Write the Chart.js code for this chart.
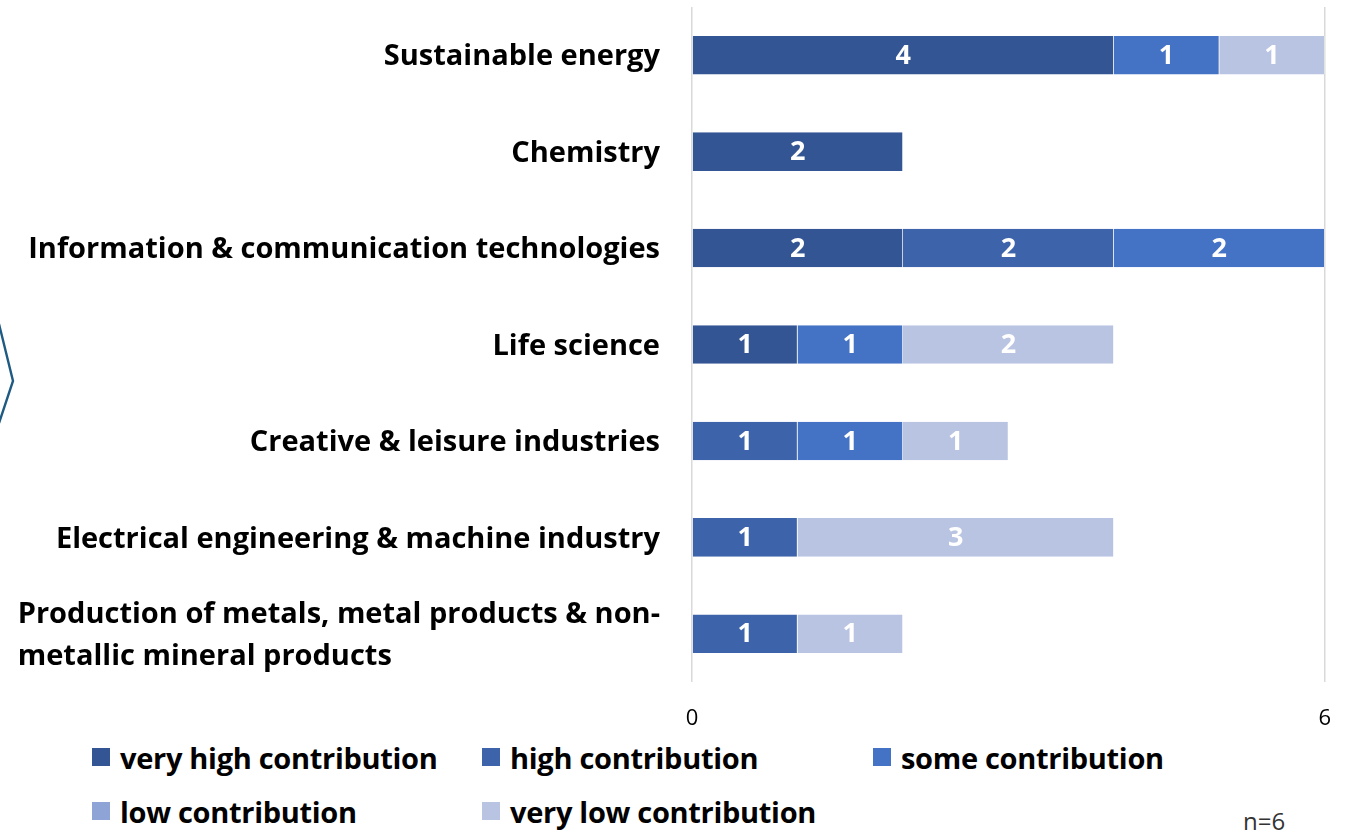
<!DOCTYPE html>
<html>
<head>
<meta charset="utf-8">
<script src="https://cdn.jsdelivr.net/npm/chart.js@4.4.1/dist/chart.umd.min.js"></script>
<style>
  body { margin: 0; background: #fff; font-family: "Open Sans", sans-serif; }
  #wrap { position: relative; width: 1355px; height: 830px; overflow: hidden; }
  #chartBox { position: absolute; left: 0; top: 0; width: 1355px; height: 735px; }
  #legend { position: absolute; left: 92px; top: 737px; display: grid; grid-template-columns: 390px 391px 390px; row-gap: 14px; }
  .item { display: flex; align-items: center; font-weight: 700; font-size: 29px; color: #000; height: 40px; letter-spacing: -0.3px; }
  .item span.box { width: 18px; height: 18px; margin-right: 10px; flex: none; }
  #note { position: absolute; left: 1243px; top: 804px; font-size: 24px; color: #333; }
  #chevron { position: absolute; left: 0; top: 320px; }
</style>
</head>
<body>
<div id="wrap">
  <svg id="chevron" width="30" height="110"><polyline points="-1,4 13,61 -1,103" fill="none" stroke="#1f5a82" stroke-width="2.4"/></svg>
  <div id="chartBox"><canvas id="chart"></canvas></div>
  <div id="legend"></div>
  <div id="note">n=6</div>
</div>
<script>
// Data
const categories = [
  ["Sustainable energy"],
  ["Chemistry"],
  ["Information & communication technologies"],
  ["Life science"],
  ["Creative & leisure industries"],
  ["Electrical engineering & machine industry"],
  ["Production of metals, metal products & non-", "metallic mineral products"],
];
const seriesNames = ["very high contribution", "high contribution", "some contribution", "low contribution", "very low contribution"];
const veryHigh = [4, 2, 2, 1, 0, 0, 0];
const high     = [0, 0, 2, 0, 1, 1, 1];
const some     = [1, 0, 2, 1, 1, 0, 0];
const low      = [0, 0, 0, 0, 0, 0, 0];
const veryLow  = [1, 0, 0, 2, 1, 3, 1];
const xTicks = [0, 6];

const colors = ["#335593", "#3d64aa", "#4472c4", "#8fa4d6", "#b9c3e2"];
const values = [veryHigh, high, some, low, veryLow];

const labelFont = "700 29px 'Open Sans'";

// Category labels: right-aligned block, lines left-aligned inside it
const catLabels = {
  id: "catLabels",
  afterDraw(chart) {
    const { ctx } = chart;
    const y = chart.scales.y;
    const right = chart.chartArea.left - 32;
    ctx.save();
    ctx.font = labelFont;
    ctx.fillStyle = "#000";
    ctx.textBaseline = "middle";
    ctx.textAlign = "left";
    const lh = 42;
    categories.forEach((lines, i) => {
      const cy = y.getPixelForTick(i) + 2;
      const w = Math.max(...lines.map((l) => ctx.measureText(l).width));
      const y0 = cy - ((lines.length - 1) * lh) / 2;
      lines.forEach((l, k) => ctx.fillText(l, right - w, y0 + k * lh));
    });
    ctx.restore();
  },
};

// Value labels in the middle of each segment
const valueLabels = {
  id: "valueLabels",
  afterDatasetsDraw(chart) {
    const { ctx } = chart;
    ctx.save();
    ctx.font = "700 27px 'Open Sans'";
    ctx.fillStyle = "#fff";
    ctx.textAlign = "center";
    ctx.textBaseline = "middle";
    chart.data.datasets.forEach((ds, di) => {
      chart.getDatasetMeta(di).data.forEach((bar, i) => {
        const v = ds.data[i];
        if (!v) return;
        const p = bar.getCenterPoint();
        ctx.fillText(String(v), p.x, p.y + 1);
      });
    });
    ctx.restore();
  },
};

const chart = new Chart(document.getElementById("chart"), {
  type: "bar",
  data: {
    labels: categories.map((c) => c.join(" ")),
    datasets: seriesNames.map((name, i) => ({
      label: name,
      data: values[i],
      backgroundColor: colors[i],
      borderColor: "#ffffff",
      borderWidth: { left: 0, right: 0.6, top: 0, bottom: 0 },
      borderSkipped: false,
      barPercentage: 0.4,
      categoryPercentage: 1,
    })),
  },
  options: {
    indexAxis: "y",
    responsive: true,
    maintainAspectRatio: false,
    animation: false,
    layout: { padding: { top: 7, right: 25, left: 0, bottom: 0 } },
    plugins: { legend: { display: false }, tooltip: { enabled: false } },
    scales: {
      x: {
        stacked: true,
        min: 0,
        max: 6,
        afterBuildTicks(s) { s.ticks = xTicks.map((v) => ({ value: v })); },
        afterFit(s) { s.height = 53; },
        grid: { color: "#d9d9d9", lineWidth: 1.5, drawTicks: false },
        border: { display: false },
        ticks: { padding: 24, color: "#000", font: { family: "Open Sans", size: 22 } },
      },
      y: {
        stacked: true,
        afterFit(s) { s.width = 692; },
        grid: { display: false },
        border: { display: false },
        ticks: { display: false },
      },
    },
  },
  plugins: [catLabels, valueLabels],
});

// HTML legend built from the chart datasets
const legendEl = document.getElementById("legend");
chart.data.datasets.forEach((ds) => {
  const d = document.createElement("div");
  d.className = "item";
  d.innerHTML = `<span class="box" style="background:${ds.backgroundColor}"></span>${ds.label}`;
  legendEl.appendChild(d);
});
</script>
</body>
</html>
